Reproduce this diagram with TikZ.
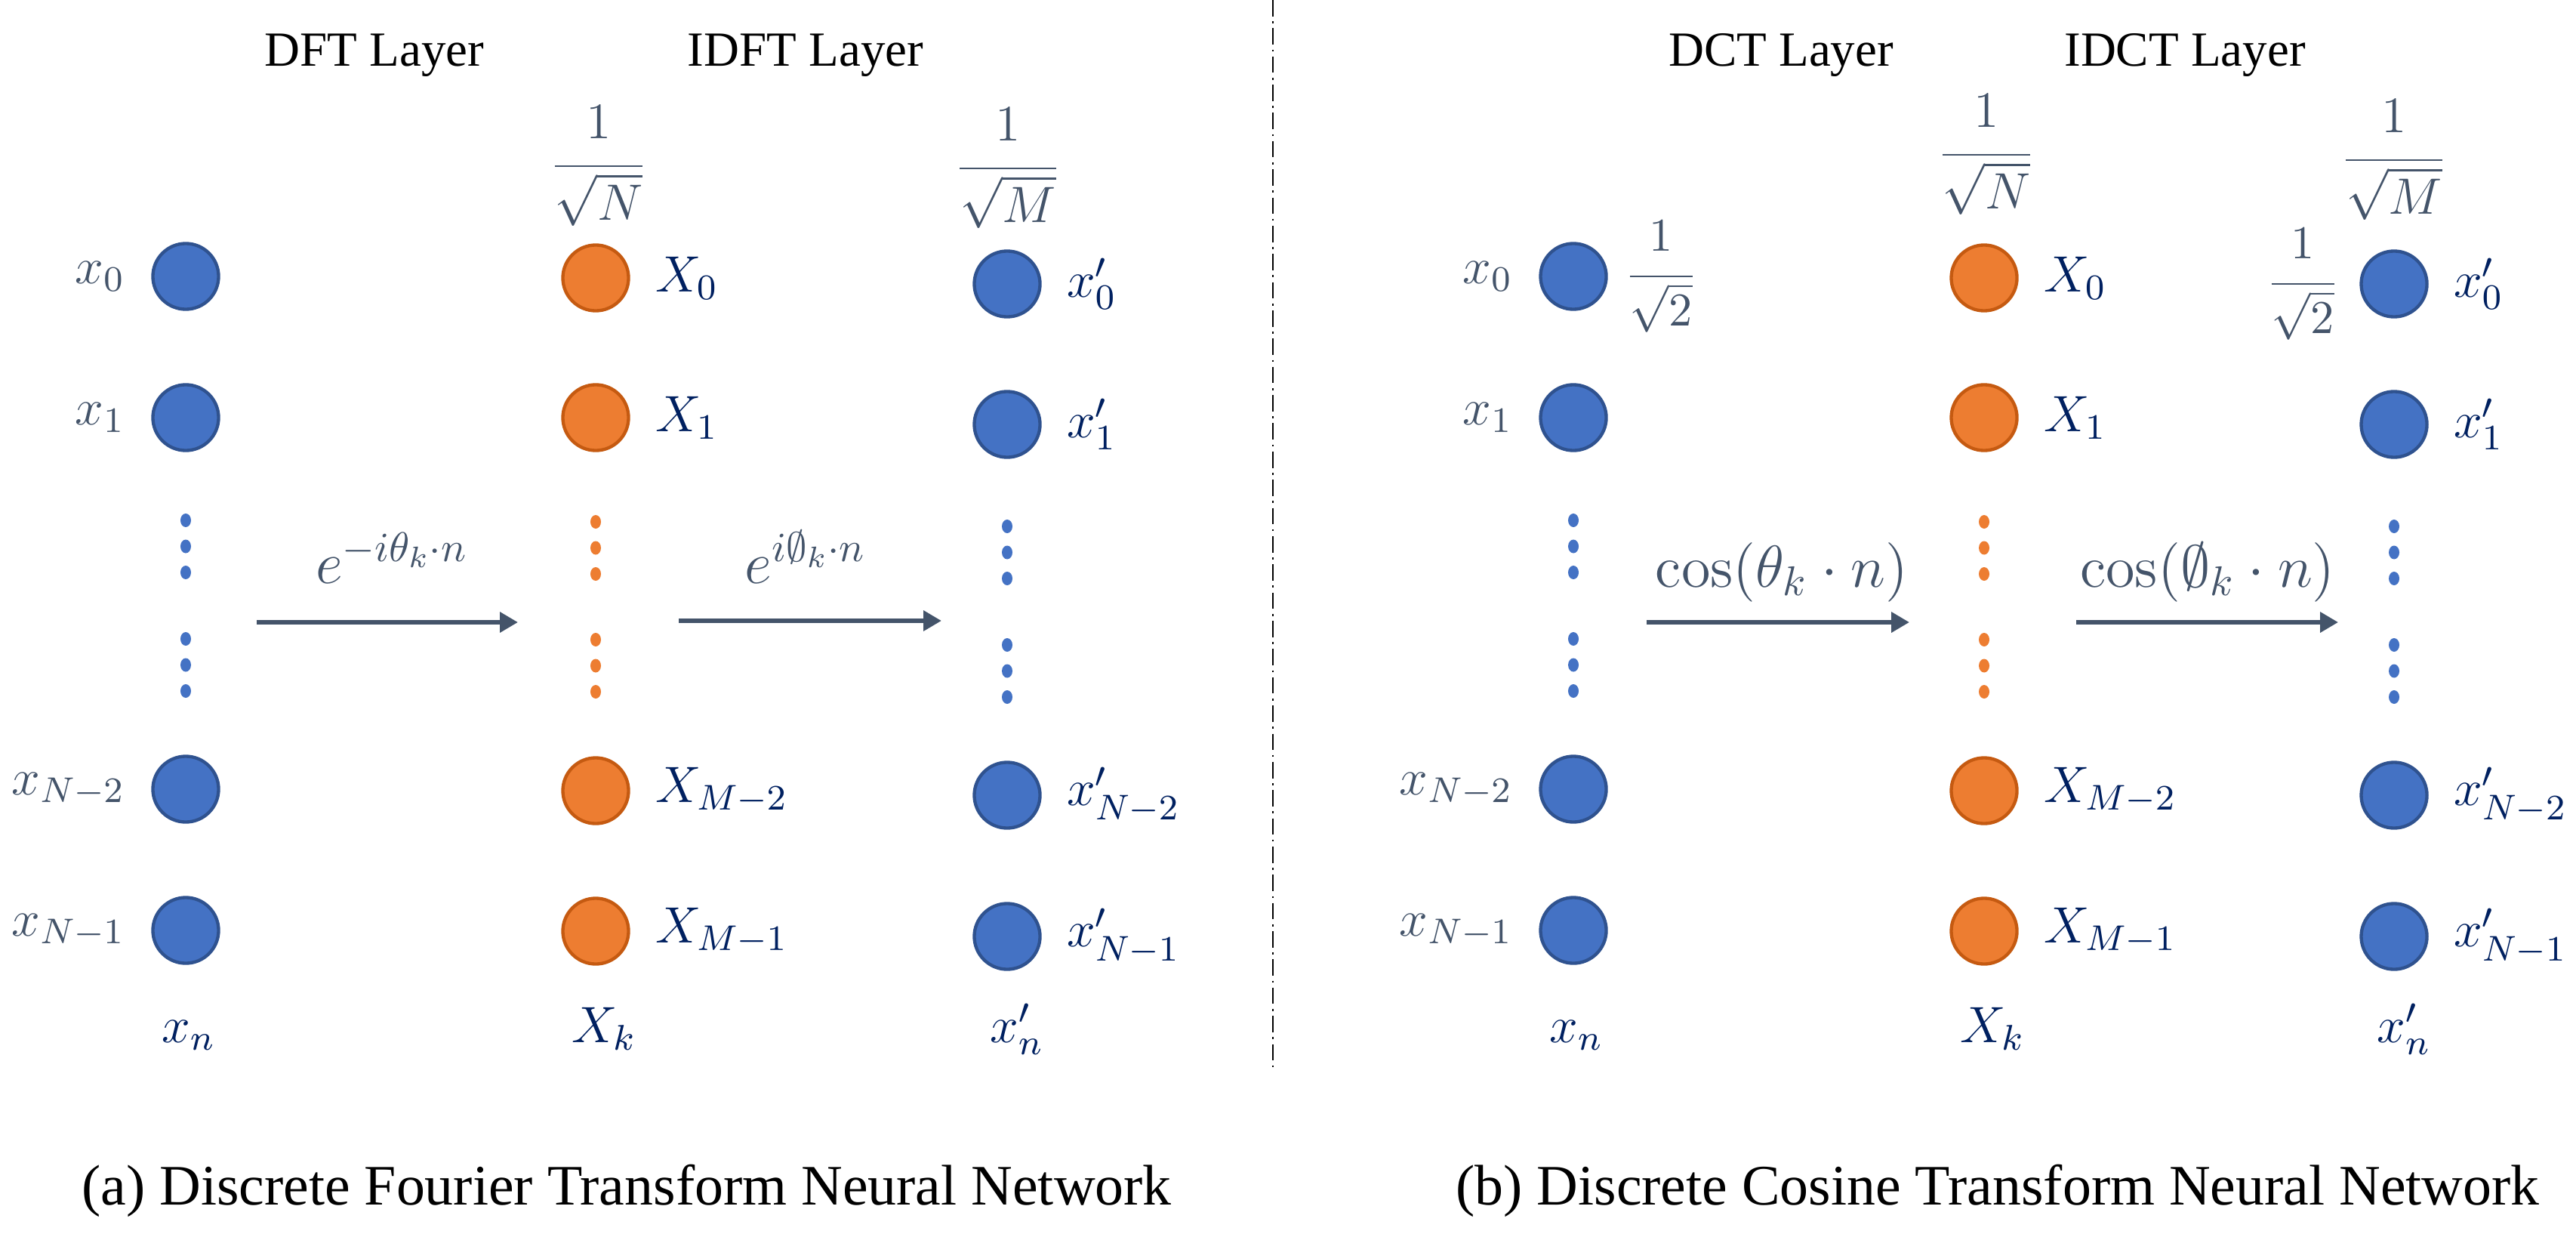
\RequirePackage{fix-cm}
\documentclass[tikz,border=0pt]{standalone}
\usepackage{amsmath}
\usepackage{fontspec}
\newfontfamily\timesfont{Liberation Serif}
\usepackage{xcolor}
\usepackage{tikz}
\usetikzlibrary{arrows.meta,positioning}
\definecolor{unitblue}{HTML}{4472C4}
\definecolor{unitblueline}{HTML}{2F528F}
\definecolor{unitorange}{HTML}{ED7D31}
\definecolor{unitorangeline}{HTML}{C55A11}
\definecolor{labgray}{HTML}{44546A}
\definecolor{labnavy}{HTML}{002060}
\tikzset{NN style/.style={x=0.649cm,y=0.649cm},
	blue unit/.style={circle,minimum size=0.565cm,inner sep=0,fill=unitblue,draw=unitblueline,line width=0.8pt},
	orange unit/.style={circle,minimum size=0.565cm,inner sep=0,fill=unitorange,draw=unitorangeline,line width=0.8pt},
	in label/.style={inner sep=0,text=labgray,font=\fontsize{12.5}{15}\selectfont},
	out label/.style={inner sep=0,text=labnavy,font=\fontsize{12.5}{15}\selectfont},
	weight label/.style={inner sep=0,text=labgray,font=\fontsize{12.5}{15}\selectfont},
	half label/.style={inner sep=0,text=labgray,font=\fontsize{11.5}{14}\selectfont},
	kernel label/.style={inner sep=0,text=labgray,font=\fontsize{14.5}{17}\selectfont,anchor=base},
	layer title/.style={inner sep=0,font=\timesfont\fontsize{12}{14}\selectfont,anchor=base},
	panel caption/.style={inner sep=0,font=\timesfont\fontsize{14}{17}\selectfont,anchor=base},
	transform arrow/.style={draw=labgray,line width=1.2pt,arrows={-Triangle[length=4.4pt,width=4.8pt]}},
	panel divider/.style={black,line width=0.5pt,dash pattern=on 4pt off 1.2pt on 0.5pt off 1.2pt}}
\newcommand{\unitdots}[3]{%
	\fill[#1] (#2,#3) ellipse (0.07 and 0.09);
	\fill[#1] (#2,#3-0.345) ellipse (0.07 and 0.09);
	\fill[#1] (#2,#3-0.69) ellipse (0.07 and 0.09);}
\newcommand{\invroot}[1]{\dfrac{1\rule[-0.4em]{0pt}{0pt}}{\sqrt{#1}}}

\begin{document}
\begin{tikzpicture}[NN style]
	\useasboundingbox (0,0) rectangle (34.12,-16.38);
	
	% (a) Fourier network
	\node[layer title] (fdl) at (4.96,-0.88) {DFT Layer};
	\node[layer title] (fil) at (10.67,-0.88) {IDFT Layer};
	
	\node[blue unit] (fx0) at (2.46,-3.66) {};
	\node[blue unit] (fx1) at (2.46,-5.53) {};
	\node[blue unit] (fx2) at (2.46,-10.45) {};
	\node[blue unit] (fx3) at (2.46,-12.32) {};
	\node[in label, left=0.22cm of fx0] (lfx0) {$x_0$};
	\node[in label, left=0.22cm of fx1] (lfx1) {$x_1$};
	\node[in label, left=0.22cm of fx2] (lfx2) {$x_{N-2}$};
	\node[in label, left=0.22cm of fx3] (lfx3) {$x_{N-1}$};
	\unitdots{unitblue}{2.46}{-6.89}
	\unitdots{unitblue}{2.46}{-8.46}
	\node[out label, anchor=base] (lfxn) at (2.50,-13.80) {$x_n$};
	
	\node[orange unit] (fX0) at (7.89,-3.68) {};
	\node[orange unit] (fX1) at (7.89,-5.53) {};
	\node[orange unit] (fX2) at (7.89,-10.47) {};
	\node[orange unit] (fX3) at (7.89,-12.33) {};
	\node[out label, right=0.21cm of fX0] (lfX0) {$X_0$};
	\node[out label, right=0.21cm of fX1] (lfX1) {$X_1$};
	\node[out label, right=0.21cm of fX2] (lfX2) {$X_{M-2}$};
	\node[out label, right=0.21cm of fX3] (lfX3) {$X_{M-1}$};
	\unitdots{unitorange}{7.89}{-6.91}
	\unitdots{unitorange}{7.89}{-8.47}
	\node[out label, anchor=base] (lfXk) at (8.00,-13.80) {$X_k$};
	\node[weight label] (fwN) at (7.93,-2.20) {$\invroot{N}$};
	
	\node[blue unit] (fy0) at (13.34,-3.76) {};
	\node[blue unit] (fy1) at (13.34,-5.62) {};
	\node[blue unit] (fy2) at (13.34,-10.53) {};
	\node[blue unit] (fy3) at (13.34,-12.40) {};
	\node[out label, right=0.21cm of fy0] (lfy0) {$x'_0$};
	\node[out label, right=0.21cm of fy1] (lfy1) {$x'_1$};
	\node[out label, right=0.21cm of fy2] (lfy2) {$x'_{N-2}$};
	\node[out label, right=0.21cm of fy3] (lfy3) {$x'_{N-1}$};
	\unitdots{unitblue}{13.34}{-6.97}
	\unitdots{unitblue}{13.34}{-8.54}
	\node[out label, anchor=base] (lfyn) at (13.47,-13.80) {$x'_n$};
	\node[weight label] (fwM) at (13.35,-2.23) {$\invroot{M}$};
	
	\coordinate (fa1) at (3.40,-8.24);
	\coordinate (fb1) at (6.86,-8.24);
	\draw[transform arrow] (fa1) -- (fb1);
	\node[kernel label] (fk1) at (5.19,-7.72) {$e^{-i\theta_k\cdot n}$};
	\coordinate (fa2) at (8.99,-8.22);
	\coordinate (fb2) at (12.47,-8.22);
	\draw[transform arrow] (fa2) -- (fb2);
	\node[kernel label] (fk2) at (10.67,-7.72) {$e^{i\emptyset_k\cdot n}$};
	
	\node[panel caption] (fcap) at (8.30,-15.95) {(a) Discrete Fourier Transform Neural Network};
	
	\draw[panel divider] (16.86,0) -- (16.86,-14.17);
	
	% (b) cosine network
	\node[layer title] (cdl) at (23.59,-0.88) {DCT Layer};
	\node[layer title] (cil) at (28.94,-0.88) {IDCT Layer};
	
	\node[blue unit] (cx0) at (20.84,-3.66) {};
	\node[blue unit] (cx1) at (20.84,-5.53) {};
	\node[blue unit] (cx2) at (20.84,-10.45) {};
	\node[blue unit] (cx3) at (20.84,-12.32) {};
	\node[in label, left=0.22cm of cx0] (lcx0) {$x_0$};
	\node[in label, left=0.22cm of cx1] (lcx1) {$x_1$};
	\node[in label, left=0.22cm of cx2] (lcx2) {$x_{N-2}$};
	\node[in label, left=0.22cm of cx3] (lcx3) {$x_{N-1}$};
	\node[half label, right=0.14cm of cx0] (cw0) {$\invroot{2}$};
	\unitdots{unitblue}{20.84}{-6.89}
	\unitdots{unitblue}{20.84}{-8.46}
	\node[out label, anchor=base] (lcxn) at (20.88,-13.80) {$x_n$};
	
	\node[orange unit] (cX0) at (26.28,-3.68) {};
	\node[orange unit] (cX1) at (26.28,-5.53) {};
	\node[orange unit] (cX2) at (26.28,-10.47) {};
	\node[orange unit] (cX3) at (26.28,-12.33) {};
	\node[out label, right=0.21cm of cX0] (lcX0) {$X_0$};
	\node[out label, right=0.21cm of cX1] (lcX1) {$X_1$};
	\node[out label, right=0.21cm of cX2] (lcX2) {$X_{M-2}$};
	\node[out label, right=0.21cm of cX3] (lcX3) {$X_{M-1}$};
	\unitdots{unitorange}{26.28}{-6.91}
	\unitdots{unitorange}{26.28}{-8.47}
	\node[out label, anchor=base] (lcXk) at (26.39,-13.80) {$X_k$};
	\node[weight label] (cwN) at (26.31,-2.05) {$\invroot{N}$};
	
	\node[blue unit] (cy0) at (31.71,-3.76) {};
	\node[blue unit] (cy1) at (31.71,-5.62) {};
	\node[blue unit] (cy2) at (31.71,-10.53) {};
	\node[blue unit] (cy3) at (31.71,-12.40) {};
	\node[out label, right=0.21cm of cy0] (lcy0) {$x'_0$};
	\node[out label, right=0.21cm of cy1] (lcy1) {$x'_1$};
	\node[out label, right=0.21cm of cy2] (lcy2) {$x'_{N-2}$};
	\node[out label, right=0.21cm of cy3] (lcy3) {$x'_{N-1}$};
	\node[half label, left=0.17cm of cy0] (cw1) {$\invroot{2}$};
	\unitdots{unitblue}{31.71}{-6.97}
	\unitdots{unitblue}{31.71}{-8.54}
	\node[out label, anchor=base] (lcyn) at (31.84,-13.80) {$x'_n$};
	\node[weight label] (cwM) at (31.71,-2.12) {$\invroot{M}$};
	
	\coordinate (ca1) at (21.81,-8.24);
	\coordinate (cb1) at (25.29,-8.24);
	\draw[transform arrow] (ca1) -- (cb1);
	\node[kernel label] (ck1) at (23.60,-7.77) {$\cos(\theta_k\cdot n)$};
	\coordinate (ca2) at (27.50,-8.24);
	\coordinate (cb2) at (30.97,-8.24);
	\draw[transform arrow] (ca2) -- (cb2);
	\node[kernel label] (ck2) at (29.24,-7.77) {$\cos(\emptyset_k\cdot n)$};
	
	\node[panel caption] (ccap) at (26.46,-15.95) {(b) Discrete Cosine Transform Neural Network};
\end{tikzpicture}
\end{document}
